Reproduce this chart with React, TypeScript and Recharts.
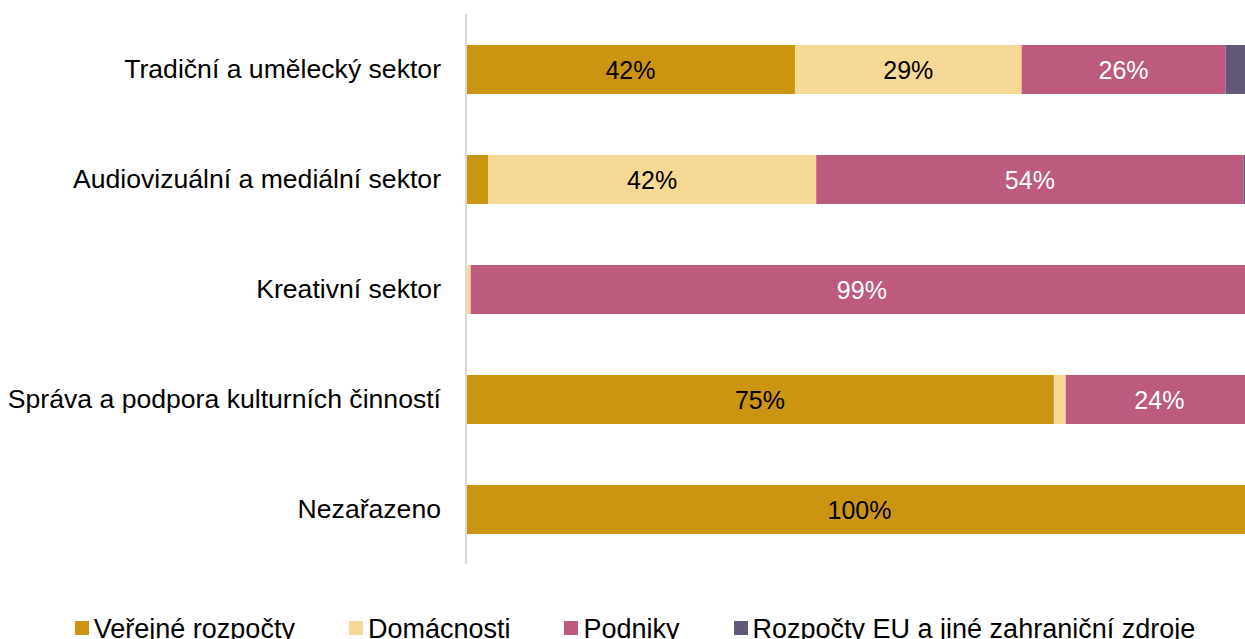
import React from 'react';
import { BarChart, Bar, XAxis, YAxis, Legend, LabelList } from 'recharts';

const categories = [
  'Tradiční a umělecký sektor',
  'Audiovizuální a mediální sektor',
  'Kreativní sektor',
  'Správa a podpora kulturních činností',
  'Nezařazeno',
];

// shares in %
const verejne = [41.8, 2.8, 0, 74.7, 100];
const domacnosti = [28.8, 41.7, 0.6, 1.5, 0];
const podniky = [25.9, 54.3, 99.4, 23.8, 0];
const zahranici = [3.5, 1.2, 0, 0, 0];

const seriesNames = ['Veřejné rozpočty', 'Domácnosti', 'Podniky', 'Rozpočty EU a jiné zahraniční zdroje'];

const data = categories.map((name, i) => ({
  name,
  verejne: verejne[i],
  domacnosti: domacnosti[i],
  podniky: podniky[i],
  zahranici: zahranici[i],
}));

const series = [
  { key: 'verejne', name: seriesNames[0], color: '#CB9511', text: '#000' },
  { key: 'domacnosti', name: seriesNames[1], color: '#F6D994', text: '#000' },
  { key: 'podniky', name: seriesNames[2], color: '#BC5B7E', text: '#fff' },
  { key: 'zahranici', name: seriesNames[3], color: '#645879', text: '#fff' },
];

const FONT = '"Liberation Sans", Arial, sans-serif';

const makeLabel = (fill: string) => (props: any) => {
  const { x, y, width, height } = props;
  let v = props.value;
  if (Array.isArray(v)) v = v[1] - v[0];
  if (v == null || v < 5) return null;
  return (
    <text
      x={x + width / 2}
      y={y + height / 2}
      textAnchor="middle"
      dominantBaseline="central"
      fill={fill}
      fontSize={25}
      fontFamily={FONT}
    >
      {Math.round(v)}%
    </text>
  );
};

const renderLegend = () => (
  <div style={{ display: 'flex', justifyContent: 'center', fontFamily: FONT, fontSize: 27, lineHeight: '31px', color: '#000' }}>
    {series.map((s) => (
      <div key={s.key} style={{ display: 'flex', alignItems: 'center', margin: '0 27px' }}>
        <span style={{ display: 'inline-block', width: 14, height: 14, background: s.color, marginRight: 5 }} />
        <span style={{ position: 'relative', top: 2 }}>{s.name}</span>
      </div>
    ))}
  </div>
);

export default function App() {
  return (
    <div style={{ position: 'fixed', left: 0, top: 0, width: 1245, height: 639, overflow: 'hidden', background: '#fff' }}>
      <BarChart
        width={1262}
        height={660}
        data={data}
        layout="vertical"
        margin={{ top: 14, right: 9, bottom: 65, left: 0 }}
      >
        <XAxis type="number" domain={[0, 100]} hide />
        <YAxis
          type="category"
          dataKey="name"
          width={466}
          tickSize={0}
          tickMargin={25}
          axisLine={{ stroke: '#d9d9d9', strokeWidth: 2 }}
          tickLine={false}
          tick={{ fill: '#000', fontSize: 26.6, fontFamily: FONT }}
        />
        <Legend
          verticalAlign="bottom"
          content={renderLegend}
          wrapperStyle={{ top: 612, left: 4, width: 1262, height: 31 }}
        />
        {series.map((s) => (
          <Bar
            key={s.key}
            dataKey={s.key}
            name={s.name}
            stackId="a"
            fill={s.color}
            barSize={49}
            isAnimationActive={false}
          >
            <LabelList dataKey={s.key} content={makeLabel(s.text)} />
          </Bar>
        ))}
      </BarChart>
    </div>
  );
}
